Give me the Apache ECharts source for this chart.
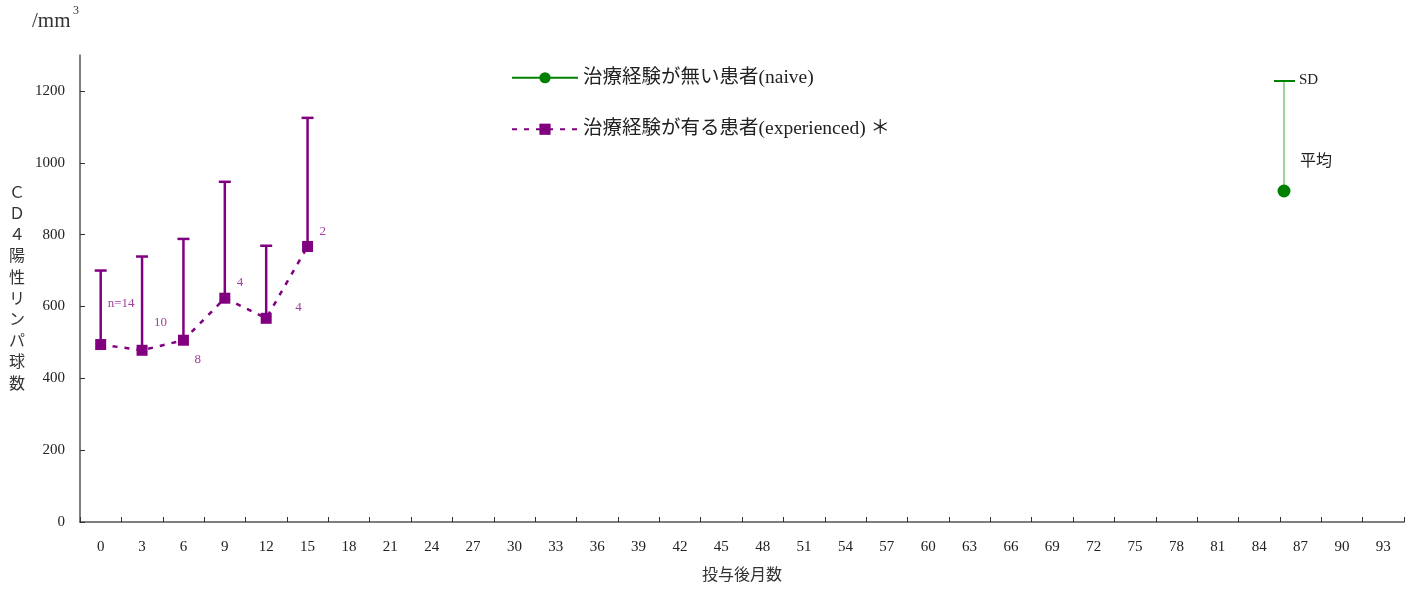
<!DOCTYPE html>
<html>
<head>
<meta charset="utf-8">
<script src="https://cdn.jsdelivr.net/npm/echarts@6/dist/echarts.min.js"></script>
<style>
  html, body { margin: 0; padding: 0; background: #fff; }
  #chart { width: 1418px; height: 590px; }
</style>
</head>
<body>
<div id="chart"></div>
<script>
// Months after start of dosing (category axis)
const months = ['0','3','6','9','12','15','18','21','24','27','30','33','36','39','42','45',
                '48','51','54','57','60','63','66','69','72','75','78','81','84','87','90','93'];
const yTicks = [0, 200, 400, 600, 800, 1000, 1200];

// Treatment-experienced patients: mean, SD and sample size per month
const experiencedMonths = ['0', '3', '6', '9', '12', '15'];
const experiencedMean = [494, 478, 506, 623, 567, 767];
const experiencedSD = [206, 261, 282, 324, 202, 358];
const experiencedN = ['n=14', '10', '8', '4', '4', '2'];

// Treatment-naive patients (no observations plotted)
const naiveMonths = [];
const naiveMean = [];

const naiveName = '治療経験が無い患者(naive)';
const expName = '治療経験が有る患者(experienced) ＊';

const PURPLE = '#800080';
const GREEN = '#008000';
const FONT = "'Liberation Serif', 'Noto Sans CJK JP', serif";

// label placement next to each point (dx, dy from the marker centre)
const nLabelOffsets = [[7, -41], [12, -28], [11, 19], [12, -16], [29, -11], [12, -15]];

const chart = echarts.init(document.getElementById('chart'), null, { renderer: 'canvas' });

const expLine = experiencedMonths.map((m, i) => [m, experiencedMean[i]]);
const expBars = experiencedMonths.map((m, i) => [months.indexOf(m), experiencedMean[i], experiencedSD[i]]);

chart.setOption({
  animation: false,
  textStyle: { fontFamily: FONT },
  grid: { left: 80, right: 14, top: 55, bottom: 68, containLabel: false, outerBoundsMode: 'none' },
  legend: {
    orient: 'vertical',
    left: 506,
    top: 63,
    itemWidth: 66,
    itemHeight: 14,
    itemGap: 32,
    textStyle: { fontFamily: FONT, fontSize: 19.5, color: '#222' },
    data: [naiveName, expName]
  },
  xAxis: {
    type: 'category',
    data: months,
    boundaryGap: true,
    name: '投与後月数',
    nameLocation: 'middle',
    nameGap: 46,
    nameTextStyle: { fontFamily: FONT, fontSize: 16, color: '#333' },
    axisLine: { lineStyle: { color: '#555', width: 1.5 } },
    axisTick: { show: true, interval: 0, alignWithLabel: false, inside: true, length: 5,
                lineStyle: { color: '#333', width: 1 } },
    axisLabel: { margin: 18, fontSize: 15, color: '#222', fontFamily: FONT, interval: 0 }
  },
  yAxis: {
    type: 'value',
    min: 0,
    max: 1300,
    interval: 100,
    splitLine: { show: false },
    axisLine: { show: true, lineStyle: { color: '#555', width: 1.5 } },
    axisTick: { show: true, inside: true, length: 5, customValues: yTicks, lineStyle: { color: '#333' } },
    axisLabel: { margin: 15, fontSize: 15, color: '#222', fontFamily: FONT, customValues: yTicks,
                 formatter: function (v) { return String(v); } }
  },
  series: [
    {
      name: naiveName,
      type: 'line',
      data: naiveMonths.map((m, i) => [m, naiveMean[i]]),
      symbol: 'circle',
      symbolSize: 12,
      itemStyle: { color: GREEN },
      lineStyle: { color: GREEN, width: 2.5 }
    },
    {
      name: expName,
      type: 'line',
      data: expLine,
      z: 3,
      symbol: 'rect',
      symbolSize: 11,
      itemStyle: { color: PURPLE },
      lineStyle: { color: PURPLE, width: 2.5, type: [5, 7] },
      label: {
        show: true,
        position: 'inside',
        color: '#a040a0',
        fontSize: 13,
        fontFamily: FONT,
        align: 'left',
        formatter: function (p) { return experiencedN[p.dataIndex]; }
      },
      labelLayout: function (p) {
        const o = nLabelOffsets[p.dataIndex];
        const r = p.rect;
        const cx = r.x + r.width / 2;
        const cy = r.y + r.height / 2;
        return { x: cx + o[0], y: cy + o[1], align: 'left', verticalAlign: 'middle' };
      }
    },
    {
      // SD bars above each mean
      name: expName,
      type: 'custom',
      data: expBars,
      z: 2,
      renderItem: function (params, api) {
        const x = api.value(0);
        const base = api.coord([x, api.value(1)]);
        const top = api.coord([x, api.value(1) + api.value(2)]);
        const half = 6;
        return {
          type: 'group',
          children: [
            { type: 'line', shape: { x1: base[0], y1: base[1], x2: top[0], y2: top[1] },
              style: { stroke: PURPLE, lineWidth: 2.5 } },
            { type: 'line', shape: { x1: top[0] - half, y1: top[1], x2: top[0] + half, y2: top[1] },
              style: { stroke: PURPLE, lineWidth: 2.5 } }
          ]
        };
      }
    }
  ],
  graphic: [
    // unit above the value axis
    { type: 'text', left: 32, top: 11,
      style: { text: '/mm', font: "21px " + FONT, fill: '#333' } },
    { type: 'text', left: 73, top: 5,
      style: { text: '3', font: "12px " + FONT, fill: '#333' } },
    // vertical axis title
    { type: 'text', left: 9, top: 183,
      style: { text: 'Ｃ\nＤ\n４\n陽\n性\nリ\nン\nパ\n球\n数', font: "16px " + FONT,
               lineHeight: 21.2, fill: '#333', align: 'left' } },
    // key explaining error bars
    { type: 'line', shape: { x1: 1284, y1: 81, x2: 1284, y2: 191 },
      style: { stroke: '#5cb85c', lineWidth: 1.2 } },
    { type: 'line', shape: { x1: 1274, y1: 81, x2: 1295, y2: 81 },
      style: { stroke: GREEN, lineWidth: 2 } },
    { type: 'circle', shape: { cx: 1284, cy: 191, r: 6.5 }, style: { fill: GREEN } },
    { type: 'text', x: 1299, y: 80,
      style: { text: 'SD', font: "15px " + FONT, fill: '#222', verticalAlign: 'middle' } },
    { type: 'text', x: 1300, y: 162,
      style: { text: '平均', font: "16px " + FONT, fill: '#222', verticalAlign: 'middle' } }
  ]
});
</script>
</body>
</html>
